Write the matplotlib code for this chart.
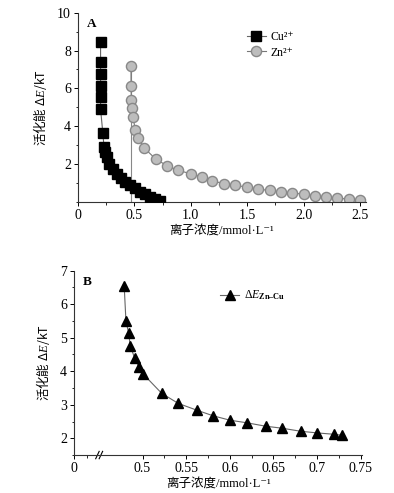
import matplotlib.pyplot as plt
import numpy as np
from matplotlib.ticker import MultipleLocator, FixedLocator

plt.rcParams['font.family'] = ['Liberation Serif', 'Noto Sans CJK SC', 'DejaVu Sans']
plt.rcParams['mathtext.fontset'] = 'custom'
plt.rcParams['mathtext.rm'] = 'Liberation Serif'
plt.rcParams['mathtext.it'] = 'Liberation Serif:italic'
plt.rcParams['mathtext.bf'] = 'Liberation Serif:bold'
plt.rcParams['font.size'] = 9

# Panel A data
cu_x = [0.20, 0.20, 0.20, 0.20, 0.20, 0.20, 0.22, 0.23, 0.24, 0.255, 0.277,
        0.308, 0.343, 0.379, 0.417, 0.461, 0.505, 0.55, 0.594, 0.638, 0.683, 0.727]
cu_y = [8.45, 7.42, 6.77, 6.15, 5.55, 4.90, 3.64, 2.92, 2.65, 2.39, 1.98,
        1.72, 1.46, 1.24, 1.06, 0.89, 0.71, 0.53, 0.41, 0.27, 0.15, 0.05]
zn_x = [0.47, 0.47, 0.473, 0.48, 0.49, 0.506, 0.53, 0.585, 0.69, 0.79, 0.89,
        1.0, 1.1, 1.19, 1.29, 1.39, 1.495, 1.6, 1.7, 1.8, 1.9, 2.0, 2.1,
        2.2, 2.3, 2.4, 2.5]
zn_y = [7.2, 6.13, 5.39, 4.98, 4.47, 3.8, 3.39, 2.85, 2.25, 1.9, 1.65,
        1.48, 1.3, 1.1, 0.96, 0.87, 0.77, 0.66, 0.59, 0.5, 0.45, 0.4, 0.31,
        0.24, 0.19, 0.13, 0.1]

# Panel B data
dz_x = [0.479, 0.481, 0.484, 0.486, 0.491, 0.496, 0.501, 0.522, 0.541, 0.562,
        0.581, 0.60, 0.62, 0.641, 0.66, 0.681, 0.70, 0.719, 0.729]
dz_y = [6.55, 5.51, 5.15, 4.76, 4.39, 4.12, 3.91, 3.34, 3.04, 2.84,
        2.67, 2.54, 2.46, 2.36, 2.30, 2.21, 2.16, 2.12, 2.09]
b_ticks = [0.5, 0.55, 0.6, 0.65, 0.7, 0.75]
b_ticklabels = ['0.5', '0.55', '0.6', '0.65', '0.7', '0.75']
b_zero = 0.4216  # position of the "0" label left of the axis break

ylabel = '活化能 Δ$\\it{E}$/kT'
xlabel = '离子浓度/mmol·L⁻¹'


def set_ylabel(ax):
    # Chinese outside the math part must come from a CJK font
    ax.set_ylabel(ylabel, fontsize=9, family='Noto Sans CJK SC', labelpad=6)


fig = plt.figure(figsize=(3.94, 4.93), dpi=100)

# ----- A -----
axA = fig.add_axes([0.198, 0.591, 0.73, 0.383])
axA.plot([zn_x[0], zn_x[0]], [0, zn_y[0]], color='#888888', lw=0.8, zorder=1)
axA.plot(cu_x, cu_y, '-s', color='#666666', lw=0.8, ms=6.8,
         mfc='black', mec='black', label='Cu²⁺', zorder=3)
axA.plot(zn_x, zn_y, '-o', color='#777777', lw=0.8, ms=7.3,
         mfc='#bdbdbd', mec='#888888', mew=1.0, label='Zn²⁺', zorder=2)
axA.set_xlim(0, 2.55)
axA.set_ylim(0, 10)
axA.set_yticks([2, 4, 6, 8, 10])
axA.yaxis.set_minor_locator(MultipleLocator(1))
axA.set_xticks([0, 0.5, 1.0, 1.5, 2.0, 2.5])
axA.set_xticklabels(['0', '0.5', '1.0', '1.5', '2.0', '2.5'])
axA.xaxis.set_minor_locator(MultipleLocator(0.25))
axA.text(0.03, 0.97, 'A', transform=axA.transAxes, fontsize=9.5,
         fontweight='bold', va='top')
axA.legend(loc='upper left', bbox_to_anchor=(0.55, 0.96), frameon=False,
           fontsize=8.5, handlelength=1.6, handletextpad=0.4, labelspacing=0.3)
set_ylabel(axA)
axA.set_xlabel(xlabel, fontsize=9, labelpad=2)

# ----- B -----
axB = fig.add_axes([0.188, 0.077, 0.732, 0.374])
axB.plot(dz_x, dz_y, '-^', color='#666666', lw=0.8, ms=7,
         mfc='black', mec='black', label='Δ$\\it{E}_{\\bf{Zn\u2013Cu}}$')
axB.set_xlim(b_zero, 0.752)
axB.set_ylim(1.5, 7)
axB.set_yticks([2, 3, 4, 5, 6, 7])
axB.yaxis.set_minor_locator(MultipleLocator(0.5))
axB.set_xticks([b_zero] + b_ticks)
axB.set_xticklabels(['0'] + b_ticklabels)
axB.xaxis.set_minor_locator(FixedLocator([0.436, 0.525, 0.575, 0.625, 0.675, 0.725]))
axB.text(0.03, 0.97, 'B', transform=axB.transAxes, fontsize=9.5,
         fontweight='bold', va='top')
axB.legend(loc='upper left', bbox_to_anchor=(0.47, 0.96), frameon=False,
           fontsize=8.5, handlelength=1.6, handletextpad=0.4)
set_ylabel(axB)
axB.set_xlabel(xlabel, fontsize=9, labelpad=2)

# axis break marks
for dx in (0.0, 0.012):
    axB.plot([0.075 + dx, 0.087 + dx], [-0.02, 0.02], transform=axB.transAxes,
             color='black', lw=0.8, clip_on=False)

for ax in (axA, axB):
    ax.spines['top'].set_visible(False)
    ax.spines['right'].set_visible(False)
    ax.tick_params(which='major', direction='out', length=3, width=0.7,
                   labelsize=10, pad=2)
    ax.tick_params(which='minor', direction='out', length=1.8, width=0.6)
    for s in ('left', 'bottom'):
        ax.spines[s].set_linewidth(0.8)
        ax.spines[s].set_color('#333333')

fig.savefig('out.png', dpi=100)
